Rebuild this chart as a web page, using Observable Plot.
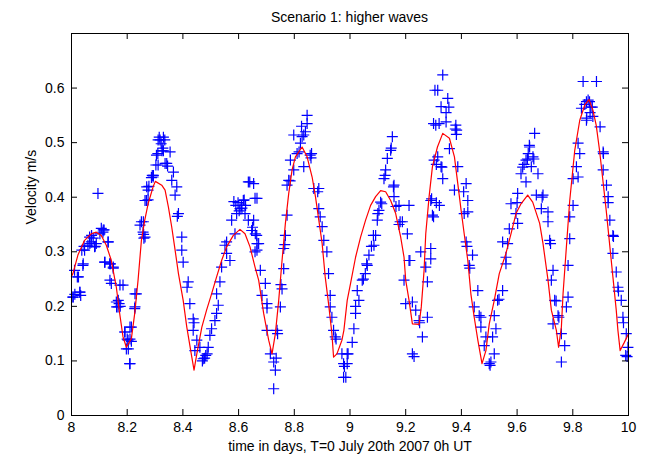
<!DOCTYPE html>
<html>
<head>
<meta charset="utf-8">
<script src="https://cdn.jsdelivr.net/npm/d3@7"></script>
<script src="https://cdn.jsdelivr.net/npm/@observablehq/plot@0.6"></script>
<style>
  html, body { margin: 0; padding: 0; background: #fff; }
  #title { height: 27px; box-sizing: border-box; padding-top: 10px; padding-left: 71px; width: 628px;
           text-align: center; font: 14px "Liberation Sans", Arial, sans-serif; line-height: 14px; color: #000; }
</style>
</head>
<body>
<div id="title">Scenario 1: higher waves</div>
<div id="chart"></div>
<script>
const titleText = "Scenario 1: higher waves";
const xLabel = "time in days, T=0 July 20th 2007 0h UT";
const yLabel = "Velocity m/s";
const xTicks = [8, 8.2, 8.4, 8.6, 8.8, 9, 9.2, 9.4, 9.6, 9.8, 10];
const xTickLabels = ["8", "8.2", "8.4", "8.6", "8.8", "9", "9.2", "9.4", "9.6", "9.8", "10"];
const yTicks = [0, 0.1, 0.2, 0.3, 0.4, 0.5, 0.6];
const yTickLabels = ["0", "0.1", "0.2", "0.3", "0.4", "0.5", "0.6"];

// measured velocities (blue +)
const obsT = [
8.005,8.012,8.03,8.033,8.021,8.011,8.041,8.047,8.059,8.071,8.065,8.083,8.089,8.107,8.113,8.117,8.095,8.131,8.119,8.137,8.15,8.143,8.185,8.161,8.167,8.171,8.233,8.227,8.191,8.215,8.203,8.21,8.197,8.209,
8.006,8.03,8.025,8.042,8.037,8.045,8.066,8.078,8.085,8.072,8.102,8.114,8.132,8.12,8.14,8.15,8.138,8.174,8.168,8.162,8.175,8.228,8.228,8.21,8.192,8.2,8.215,8.204,8.21,8.264,8.259,8.246,8.258,
8.257,8.251,8.26,8.269,8.275,8.275,8.278,8.293,8.287,8.311,8.305,8.31,8.311,8.315,8.318,8.33,8.335,8.325,8.33,8.303,8.342,8.345,8.366,8.36,8.378,8.372,8.294,8.29,8.27,8.264,8.384,8.354,8.336,
8.38,8.396,8.396,8.401,8.419,8.415,8.425,8.437,8.44,8.437,8.45,8.443,8.473,8.478,8.47,8.461,8.491,8.497,8.503,8.515,8.521,8.527,8.521,8.533,8.539,8.557,8.569,8.551,8.557,8.587,8.575,8.593,8.605,8.61,8.59,8.617,8.623,8.635,8.647,8.659,8.635,8.64,8.659,8.665,8.666,8.62,8.625,8.65,8.482,8.487,
8.654,8.666,8.654,8.66,8.672,8.666,8.678,8.696,8.684,8.702,8.702,8.702,8.738,8.74,8.714,8.726,8.732,8.735,8.726,8.75,8.756,8.752,8.762,8.762,8.766,8.768,8.774,8.774,8.78,8.785,8.786,8.798,8.81,8.798,8.822,8.828,8.834,8.846,8.846,8.834,8.817,8.857,8.862,8.86,8.87,8.888,8.884,8.888,8.893,8.9,8.906,8.917,8.923,8.929,8.929,8.935,8.941,8.947,8.95,8.971,8.977,8.98,8.977,8.99,
8.985,8.99,8.993,9.008,9.014,9.02,9.02,9.032,9.026,9.044,9.048,9.062,9.068,9.086,9.092,9.098,9.104,9.11,9.122,9.128,9.134,9.146,9.152,9.158,9.158,9.176,9.212,9.188,9.176,9.206,9.212,9.194,9.2,9.224,9.236,9.248,9.25,9.278,9.26,9.224,9.23,9.254,9.29,9.29,9.272,9.278,9.296,9.29,9.302,9.308,9.31,9.31,9.305,9.3,9.148,9.126,9.156,9.114,9.1,9.165,9.18,9.084,9.077,9.06,9.055,9.215,9.293,9.3,
9.333,9.315,9.351,9.327,9.355,9.345,9.32,9.38,9.378,9.383,9.357,9.315,9.327,9.33,9.333,9.387,9.417,9.375,9.408,9.423,9.423,9.41,9.321,9.417,9.42,9.44,9.428,9.43,9.459,9.446,9.464,9.47,9.47,9.488,9.482,9.518,9.506,9.5,9.503,9.512,9.524,9.518,9.53,9.535,9.548,9.56,9.56,9.548,9.566,9.572,9.602,9.596,9.578,9.6,9.602,9.614,9.632,9.62,9.632,9.637,9.644,
9.663,9.645,9.657,9.66,9.651,9.675,9.669,9.693,9.69,9.687,9.711,9.711,9.717,9.72,9.729,9.723,9.735,9.74,9.747,9.75,9.729,9.759,9.771,9.759,9.777,9.783,9.783,9.789,9.789,9.801,9.801,9.819,9.813,9.825,9.819,9.831,9.849,9.85,9.849,9.855,9.86,9.865,9.87,9.837,9.885,9.898,9.909,9.91,9.909,9.921,9.927,9.927,9.933,9.944,9.946,9.944,9.956,9.962,9.964,9.974,9.98,9.982,9.992,9.998,9.99,9.995,
8.322,8.328,8.598,8.602,8.612,8.583,9.843,9.862,9.872,9.382,9.345,8.84,8.826,9.625,9.64
];
const obsV = [
0.217,0.222,0.226,0.22,0.254,0.266,0.275,0.303,0.312,0.318,0.327,0.309,0.315,0.343,0.336,0.34,0.407,0.318,0.281,0.278,0.27,0.242,0.239,0.208,0.199,0.205,0.223,0.196,0.153,0.162,0.138,0.14,0.122,0.095,
0.217,0.226,0.254,0.278,0.303,0.31,0.315,0.325,0.31,0.33,0.333,0.34,0.318,0.281,0.278,0.272,0.248,0.239,0.211,0.199,0.2,0.223,0.199,0.162,0.153,0.14,0.136,0.122,0.095,0.327,0.332,0.349,0.355,
0.336,0.355,0.325,0.394,0.395,0.413,0.42,0.437,0.436,0.459,0.477,0.48,0.505,0.51,0.505,0.51,0.505,0.485,0.485,0.459,0.462,0.457,0.446,0.431,0.419,0.404,0.44,0.44,0.419,0.394,0.37,0.483,0.462,
0.365,0.327,0.303,0.281,0.245,0.235,0.205,0.177,0.17,0.156,0.138,0.119,0.104,0.105,0.1,0.125,0.125,0.147,0.159,0.174,0.187,0.202,0.223,0.245,0.272,0.297,0.284,0.312,0.318,0.333,0.358,0.37,0.379,0.385,0.385,0.394,0.37,0.358,0.339,0.3,0.428,0.428,0.398,0.33,0.315,0.395,0.385,0.345,0.11,0.113,
0.425,0.398,0.358,0.333,0.315,0.303,0.266,0.242,0.22,0.205,0.197,0.156,0.156,0.15,0.113,0.098,0.083,0.105,0.049,0.199,0.232,0.24,0.269,0.306,0.313,0.33,0.367,0.422,0.431,0.43,0.468,0.45,0.48,0.514,0.499,0.511,0.514,0.535,0.55,0.456,0.483,0.477,0.48,0.472,0.416,0.416,0.41,0.379,0.364,0.346,0.321,0.3,0.26,0.22,0.199,0.18,0.156,0.144,0.14,0.113,0.095,0.09,0.07,0.113,
0.07,0.095,0.113,0.134,0.159,0.187,0.2,0.211,0.229,0.248,0.25,0.275,0.294,0.312,0.33,0.358,0.376,0.391,0.434,0.45,0.471,0.486,0.511,0.422,0.401,0.385,0.385,0.355,0.35,0.333,0.284,0.248,0.205,0.208,0.193,0.174,0.17,0.18,0.144,0.113,0.108,0.3,0.306,0.287,0.272,0.245,0.367,0.394,0.468,0.532,0.46,0.39,0.596,0.535,0.49,0.44,0.419,0.388,0.37,0.383,0.355,0.33,0.31,0.278,0.26,0.284,0.397,0.364,
0.624,0.596,0.581,0.566,0.565,0.538,0.535,0.532,0.525,0.523,0.489,0.474,0.456,0.455,0.434,0.456,0.425,0.413,0.41,0.394,0.373,0.37,0.385,0.318,0.31,0.294,0.275,0.27,0.229,0.199,0.183,0.18,0.162,0.144,0.128,0.113,0.098,0.095,0.092,0.144,0.159,0.183,0.211,0.213,0.229,0.278,0.29,0.318,0.315,0.342,0.352,0.37,0.388,0.39,0.407,0.443,0.428,0.455,0.468,0.47,0.495,
0.517,0.492,0.474,0.47,0.456,0.443,0.404,0.404,0.4,0.379,0.373,0.355,0.321,0.315,0.266,0.248,0.211,0.21,0.183,0.18,0.168,0.15,0.128,0.098,0.199,0.217,0.275,0.324,0.364,0.385,0.434,0.437,0.456,0.48,0.499,0.563,0.541,0.545,0.575,0.578,0.575,0.565,0.565,0.612,0.612,0.529,0.483,0.48,0.45,0.422,0.401,0.39,0.358,0.33,0.328,0.297,0.263,0.235,0.228,0.211,0.18,0.17,0.15,0.125,0.11,0.108,
0.498,0.49,0.39,0.375,0.38,0.392,0.57,0.555,0.548,0.515,0.555,0.52,0.53,0.46,0.48
];

// modelled velocity (red line)
const modelT = [8.0,8.005,8.023,8.047,8.071,8.089,8.107,8.125,8.143,8.161,8.173,8.185,8.197,8.215,8.227,8.239,8.251,8.263,8.275,8.293,8.301,8.324,8.336,8.348,8.36,8.372,8.384,8.401,8.414,8.432,8.44,8.45,8.468,8.485,8.503,8.521,8.539,8.557,8.581,8.605,8.623,8.641,8.659,8.672,8.69,8.708,8.72,8.732,8.744,8.756,8.768,8.78,8.792,8.804,8.828,8.846,8.864,8.876,8.888,8.9,8.911,8.923,8.935,8.941,8.953,8.971,8.978,8.99,9.002,9.02,9.038,9.056,9.074,9.092,9.11,9.128,9.146,9.164,9.182,9.194,9.2,9.212,9.224,9.248,9.256,9.266,9.272,9.284,9.296,9.314,9.333,9.357,9.375,9.387,9.399,9.41,9.423,9.434,9.446,9.459,9.474,9.488,9.5,9.518,9.536,9.56,9.578,9.596,9.614,9.638,9.656,9.681,9.693,9.711,9.723,9.741,9.749,9.759,9.765,9.777,9.789,9.807,9.825,9.843,9.858,9.872,9.884,9.896,9.908,9.92,9.932,9.944,9.956,9.962,9.97,9.985,10.0];
const modelV = [0.255,0.26,0.294,0.321,0.333,0.336,0.33,0.312,0.284,0.235,0.187,0.144,0.125,0.141,0.187,0.248,0.321,0.358,0.388,0.419,0.429,0.422,0.413,0.382,0.345,0.303,0.26,0.211,0.162,0.107,0.083,0.113,0.162,0.193,0.223,0.254,0.284,0.309,0.33,0.341,0.333,0.309,0.272,0.248,0.187,0.138,0.113,0.15,0.211,0.284,0.352,0.407,0.45,0.474,0.492,0.474,0.437,0.401,0.358,0.315,0.254,0.205,0.15,0.107,0.113,0.138,0.156,0.211,0.242,0.29,0.327,0.358,0.385,0.401,0.412,0.41,0.394,0.37,0.327,0.29,0.248,0.211,0.168,0.167,0.199,0.266,0.333,0.401,0.456,0.492,0.517,0.508,0.474,0.425,0.376,0.333,0.284,0.223,0.18,0.138,0.095,0.119,0.168,0.211,0.26,0.297,0.333,0.37,0.388,0.404,0.391,0.352,0.315,0.248,0.193,0.156,0.125,0.162,0.223,0.309,0.394,0.486,0.541,0.569,0.579,0.56,0.532,0.486,0.431,0.376,0.315,0.254,0.193,0.156,0.119,0.134,0.15];

const obs = obsT.map((t, i) => ({t, v: obsV[i]}));
const model = modelT.map((t, i) => ({t, v: modelV[i]}));

const W = 653, H = 432, mL = 71, mR = 25, mT = 6, mB = 44;
const plotH = H - mT - mB, plotW = W - mL - mR;
const tickLen = 6;

const thinPlus = {
  draw(context, size) {
    const r = Math.sqrt(size / Math.PI);
    context.moveTo(-r, 0); context.lineTo(r, 0);
    context.moveTo(0, -r); context.lineTo(0, r);
  }
};

const chart = Plot.plot({
  width: W, height: H,
  marginLeft: mL, marginRight: mR, marginTop: mT, marginBottom: mB,
  style: {fontFamily: '"Liberation Sans", Arial, sans-serif', fontSize: "14px", background: "white", color: "black"},
  x: {domain: [8, 10]},
  y: {domain: [0, 0.7]},
  marks: [
    Plot.dot(obs, {x: "t", y: "v", symbol: thinPlus, r: 5.5, stroke: "#0000ff", fill: "none", strokeWidth: 1.2}),
    Plot.line(model, {x: "t", y: "v", stroke: "#ff0000", strokeWidth: 1.2}),
    Plot.tickX(xTicks, {x: d => d, stroke: "black", insetTop: plotH - tickLen}),
    Plot.tickX(xTicks, {x: d => d, stroke: "black", insetBottom: plotH - tickLen}),
    Plot.tickY(yTicks, {y: d => d, stroke: "black", insetRight: plotW - tickLen}),
    Plot.tickY(yTicks, {y: d => d, stroke: "black", insetLeft: plotW - tickLen}),
    Plot.frame({stroke: "black"}),
    Plot.axisX(xTicks, {tickSize: 0, tickPadding: 7, label: null, tickFormat: d => xTickLabels[xTicks.indexOf(d)], fill: "black"}),
    Plot.axisY(yTicks, {tickSize: 0, tickPadding: 7, label: null, tickFormat: d => yTickLabels[yTicks.indexOf(d)], fill: "black"}),
    Plot.text([xLabel], {text: d => d, frameAnchor: "bottom", dy: 31, lineAnchor: "middle", fill: "black"}),
    Plot.text([yLabel], {text: d => d, frameAnchor: "left", dx: -40, rotate: -90, lineAnchor: "middle", fill: "black"})
  ]
});
document.getElementById("chart").appendChild(chart);
</script>
</body>
</html>
